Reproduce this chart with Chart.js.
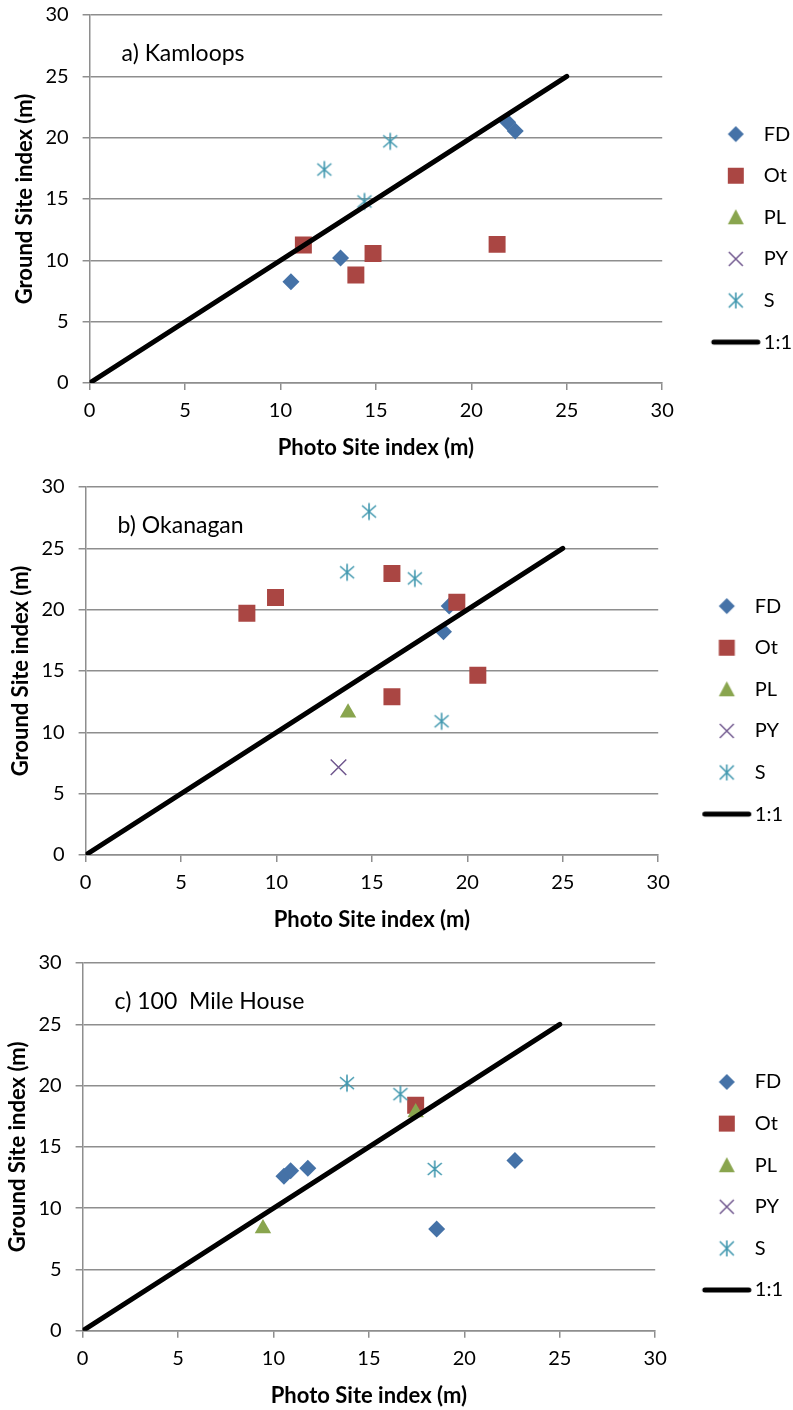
<!DOCTYPE html>
<html><head><meta charset="utf-8">
<script src="https://cdn.jsdelivr.net/npm/chart.js@4.4.1/dist/chart.umd.min.js"></script>
<style>
html,body{margin:0;padding:0;background:#fff;}
.box{position:absolute;left:0;width:793px;height:470px;}
#wa{top:0}#wb{top:470px}#wc{top:940px}
</style></head><body>
<div class="box" id="wa"><canvas id="ca"></canvas></div>
<div class="box" id="wb"><canvas id="cb"></canvas></div>
<div class="box" id="wc"><canvas id="cc"></canvas></div>
<script>
// ---- data ----
const seriesNames = ['FD', 'Ot', 'PL', 'PY', 'S'];
const lineName = '1:1';
const axisTicks = [0, 5, 10, 15, 20, 25, 30];
const xTitle = 'Photo Site index (m)';
const yTitle = 'Ground Site index (m)';
const panelTitles = ['a) Kamloops', 'b) Okanagan', 'c) 100  Mile House'];

const kamloopsFD = [{x:10.55,y:8.25},{x:13.15,y:10.2},{x:21.9,y:21.25},{x:22.3,y:20.55}];
const kamloopsOt = [{x:11.2,y:11.25},{x:13.95,y:8.8},{x:14.85,y:10.55},{x:21.35,y:11.3}];
const kamloopsPL = [];
const kamloopsPY = [];
const kamloopsS  = [{x:12.3,y:17.4},{x:14.4,y:14.8},{x:15.75,y:19.7}];

const okanaganFD = [{x:18.75,y:18.2},{x:19.05,y:20.3}];
const okanaganOt = [{x:8.45,y:19.7},{x:9.95,y:21.0},{x:16.05,y:22.95},{x:19.45,y:20.6},{x:20.55,y:14.65},{x:16.05,y:12.9}];
const okanaganPL = [{x:13.75,y:11.6}];
const okanaganPY = [{x:13.25,y:7.15}];
const okanaganS  = [{x:13.7,y:23.05},{x:14.85,y:28.0},{x:17.25,y:22.55},{x:18.65,y:10.9}];

const mileFD = [{x:10.55,y:12.6},{x:10.9,y:13.05},{x:11.8,y:13.25},{x:22.65,y:13.9},{x:18.55,y:8.3}];
const mileOt = [{x:17.45,y:18.4}];
const milePL = [{x:17.45,y:17.8},{x:9.45,y:8.35}];
const milePY = [];
const mileS  = [{x:13.85,y:20.2},{x:16.65,y:19.3},{x:18.45,y:13.2}];

const oneToOne = [{x:0,y:0},{x:25,y:25}];

// ---- styles ----
const FONT = 'Lato, "Open Sans", sans-serif';
const colors = {FD:'#4572A7', Ot:'#AA4643', PL:'#89A54E', PY:'#71588F', S:'#4198AF'};
const GRID = '#8e8e8e';
const LEG_FONT = 20, LEG_PAD = 21.6;

function drawShape(ctx, name, cx, cy) {
  ctx.save();
  ctx.fillStyle = colors[name] || '#000';
  ctx.strokeStyle = colors[name] || '#000';
  ctx.beginPath();
  if (name === 'FD') {
    const r = 8;
    ctx.moveTo(cx, cy - r); ctx.lineTo(cx + r, cy); ctx.lineTo(cx, cy + r); ctx.lineTo(cx - r, cy); ctx.closePath(); ctx.fill();
  } else if (name === 'Ot') {
    ctx.rect(cx - 8, cy - 8, 16, 16); ctx.fill();
  } else if (name === 'PL') {
    ctx.moveTo(cx, cy - 8); ctx.lineTo(cx + 8, cy + 7); ctx.lineTo(cx - 8, cy + 7); ctx.closePath(); ctx.fill();
  } else if (name === 'PY') {
    ctx.lineWidth = 1.5;
    ctx.moveTo(cx - 7, cy - 7); ctx.lineTo(cx + 7, cy + 7); ctx.moveTo(cx + 7, cy - 7); ctx.lineTo(cx - 7, cy + 7); ctx.stroke();
  } else if (name === 'S') {
    ctx.lineWidth = 1.6;
    ctx.moveTo(cx, cy - 8); ctx.lineTo(cx, cy + 8);
    ctx.moveTo(cx - 7, cy - 7); ctx.lineTo(cx + 7, cy + 7); ctx.moveTo(cx + 7, cy - 7); ctx.lineTo(cx - 7, cy + 7); ctx.stroke();
  } else {
    ctx.lineWidth = 5; ctx.lineCap = 'round'; ctx.strokeStyle = '#000';
    ctx.moveTo(cx - 22, cy); ctx.lineTo(cx + 22, cy); ctx.stroke();
  }
  ctx.restore();
}

// asterisk marker for S points
function starImage() {
  const c = document.createElement('canvas'); c.width = 20; c.height = 20;
  const g = c.getContext('2d');
  g.strokeStyle = colors.S; g.lineWidth = 1.6; g.beginPath();
  g.moveTo(10, 1.5); g.lineTo(10, 18.5);
  g.moveTo(3, 4); g.lineTo(17, 16); g.moveTo(17, 4); g.lineTo(3, 16); g.stroke();
  return c;
}
const S_IMG = starImage();

function legendImage(name, boxW) {
  const c = document.createElement('canvas'); c.width = 110; c.height = 24;
  const g = c.getContext('2d');
  drawShape(g, name, 55 + (boxW / 2 - 18), 12);
  return c;
}

const panelTitle = {
  id: 'panelTitle',
  afterDraw(chart, args, opts) {
    const {ctx, chartArea} = chart;
    ctx.save();
    ctx.font = '23px ' + FONT; ctx.fillStyle = '#000';
    ctx.textBaseline = 'middle'; ctx.textAlign = 'left';
    ctx.fillText(opts.text, chartArea.left + 32, chartArea.top + 39);
    ctx.restore();
  }
};

function makeChart(id, title, FD, Ot, PL, PY, S, pad, boxW) {
  const sets = {FD, Ot, PL, PY, S};
  const pointCfg = {
    FD: {pointStyle: 'rectRot', pointRadius: 8.5},
    Ot: {pointStyle: 'rect', pointRadius: 12},
    PL: {pointStyle: 'triangle', pointRadius: 9.5},
    PY: {pointStyle: 'crossRot', pointRadius: 11, borderWidth: 1.5},
    S:  {pointStyle: S_IMG, pointRadius: 9}
  };
  const datasets = seriesNames.map((n, i) => Object.assign({
    label: n, data: sets[n], backgroundColor: colors[n], borderColor: colors[n],
    borderWidth: 0, order: 10 - i, showLine: false
  }, pointCfg[n]));
  datasets.push({label: lineName, data: oneToOne, showLine: true, borderColor: '#000', borderWidth: 5,
    borderCapStyle: 'round', pointRadius: 0, order: 1, backgroundColor: '#000'});

  return new Chart(document.getElementById(id), {
    type: 'scatter',
    data: {datasets},
    plugins: [panelTitle],
    options: {
      responsive: true, maintainAspectRatio: false, animation: false,
      events: [],
      layout: {padding: pad},
      plugins: {
        panelTitle: {text: title},
        tooltip: {enabled: false},
        legend: {
          position: 'right',
          labels: {
            usePointStyle: true, pointStyleWidth: boxW, padding: LEG_PAD,
            color: '#000', font: {family: FONT, size: LEG_FONT},
            generateLabels(chart) {
              return chart.data.datasets.map((d, i) => ({
                text: d.label, datasetIndex: i, hidden: false,
                pointStyle: legendImage(d.label, boxW), fontColor: '#000',
                lineWidth: 0, strokeStyle: 'transparent', fillStyle: 'transparent'
              }));
            }
          }
        }
      },
      scales: {
        x: {
          type: 'linear', min: 0, max: 30,
          afterBuildTicks(s) { s.ticks = axisTicks.map(v => ({value: v})); },
          ticks: {color: '#000', font: {family: FONT, size: 20}, padding: 9},
          grid: {drawOnChartArea: false, drawTicks: true, tickLength: 7, color: GRID, lineWidth: 1.5},
          border: {color: GRID, width: 1.5},
          title: {display: true, text: xTitle, color: '#000', font: {family: FONT, size: 22, weight: 'bold'}, padding: {top: 2.8, bottom: 0}}
        },
        y: {
          type: 'linear', min: 0, max: 30,
          afterBuildTicks(s) { s.ticks = axisTicks.map(v => ({value: v})); },
          afterFit(s) { s.paddingTop = 0; s.paddingBottom = 0; },
          ticks: {color: '#000', font: {family: FONT, size: 20}, padding: 14},
          grid: {drawTicks: true, tickLength: 7, color: GRID, lineWidth: 1.5},
          border: {color: GRID, width: 1.5},
          title: {display: true, text: yTitle, color: '#000', font: {family: FONT, size: 22, weight: 'bold'}, padding: {top: 0, bottom: -7}}
        }
      }
    }
  });
}

makeChart('ca', panelTitles[0], kamloopsFD, kamloopsOt, kamloopsPL, kamloopsPY, kamloopsS, {left: 12, right: -9, top: 15, bottom: 8.8}, 70);
makeChart('cb', panelTitles[1], okanaganFD, okanaganOt, okanaganPL, okanaganPY, okanaganS, {left: 8, right: 0, top: 17, bottom: 6.8}, 65);
makeChart('cc', panelTitles[2], mileFD, mileOt, milePL, milePY, mileS, {left: 5, right: 0, top: 23, bottom: 1}, 68);
</script>
</body></html>
